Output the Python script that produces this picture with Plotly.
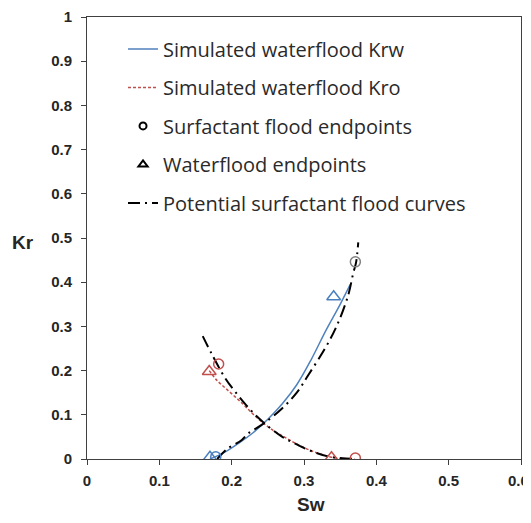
import plotly.graph_objects as go

# Simulated waterflood Krw
krw_sw = [0.170, 0.19, 0.21, 0.23, 0.25, 0.27, 0.29, 0.31, 0.33, 0.35, 0.364]
krw_kr = [0.0, 0.015, 0.036, 0.060, 0.090, 0.125, 0.168, 0.225, 0.29, 0.35, 0.395]

# Simulated waterflood Kro
kro_sw = [0.169, 0.179, 0.195, 0.212, 0.228, 0.244, 0.26, 0.276, 0.29, 0.308, 0.325, 0.338, 0.355, 0.37]
kro_kr = [0.2, 0.179, 0.155, 0.130, 0.104, 0.081, 0.062, 0.047, 0.034, 0.020, 0.010, 0.004, 0.001, 0.0]

# Potential surfactant flood curves (water and oil)
pw_sw = [0.18, 0.193, 0.214, 0.223, 0.244, 0.27, 0.29, 0.306, 0.329, 0.345, 0.361, 0.368, 0.372, 0.375]
pw_kr = [0.0, 0.022, 0.043, 0.058, 0.08, 0.115, 0.15, 0.19, 0.25, 0.30, 0.37, 0.42, 0.445, 0.49]
po_sw = [0.160, 0.172, 0.191, 0.205, 0.22, 0.235, 0.251, 0.27, 0.29, 0.31, 0.336, 0.37]
po_kr = [0.278, 0.239, 0.183, 0.152, 0.122, 0.096, 0.073, 0.050, 0.033, 0.018, 0.005, 0.0]

# Surfactant flood endpoints
sf_sw = [0.178, 0.182, 0.371, 0.371]
sf_kr = [0.005, 0.215, 0.002, 0.446]
sf_col = ["#4a7fc0", "#c0504d", "#c0504d", "#808080"]

# Waterflood endpoints
wf_sw = [0.170, 0.341, 0.169, 0.338]
wf_kr = [0.004, 0.367, 0.198, 0.003]
wf_col = ["#4a7fc0", "#4a7fc0", "#c0504d", "#c0504d"]

x_ticks = [0, 0.1, 0.2, 0.3, 0.4, 0.5, 0.6]
x_labels = ["0", "0.1", "0.2", "0.3", "0.4", "0.5", "0.6"]
y_ticks = [0, 0.1, 0.2, 0.3, 0.4, 0.5, 0.6, 0.7, 0.8, 0.9, 1]
y_labels = ["0", "0.1", "0.2", "0.3", "0.4", "0.5", "0.6", "0.7", "0.8", "0.9", "1"]

DASHDOT = "12px,5px,2px,5px"

fig = go.Figure()

fig.add_trace(go.Scatter(x=krw_sw, y=krw_kr, mode="lines", name="Simulated waterflood Krw",
                         line=dict(color="#4f81bd", width=1.5, shape="spline"), legendgroup="a"))
fig.add_trace(go.Scatter(x=kro_sw, y=kro_kr, mode="lines", name="Simulated waterflood Kro",
                         line=dict(color="#c0504d", width=1.5, dash="3px,2px", shape="spline"), legendgroup="b"))
fig.add_trace(go.Scatter(x=[None], y=[None], mode="markers", name="Surfactant flood endpoints",
                         marker=dict(symbol="circle-open", color="black", size=7, line=dict(width=2)),
                         legendgroup="c"))
fig.add_trace(go.Scatter(x=[None], y=[None], mode="markers", name="Waterflood endpoints",
                         marker=dict(symbol="triangle-up-open", color="black", size=8, line=dict(width=2)),
                         legendgroup="d"))
fig.add_trace(go.Scatter(x=pw_sw, y=pw_kr, mode="lines", name="Potential surfactant flood curves",
                         line=dict(color="black", width=2, dash=DASHDOT, shape="spline"),
                         legendgroup="e"))
fig.add_trace(go.Scatter(x=po_sw, y=po_kr, mode="lines", showlegend=False,
                         line=dict(color="black", width=2, dash=DASHDOT, shape="spline"),
                         legendgroup="e"))
fig.add_trace(go.Scatter(x=sf_sw, y=sf_kr, mode="markers", showlegend=False,
                         marker=dict(symbol="circle-open", color=sf_col, size=10, line=dict(width=1.5, color=sf_col))))
fig.add_trace(go.Scatter(x=wf_sw, y=wf_kr, mode="markers", showlegend=False,
                         marker=dict(symbol="triangle-up-open", color=wf_col, size=12, line=dict(width=1.5, color=wf_col))))

tick_font = dict(family="Liberation Sans", size=15, color="#262626")

# the last x label sits at the right edge; it is drawn as an annotation kept inside the figure
x_text = ["<b>%s</b>" % t for t in x_labels[:-1]] + [""]

# page body adds an 8px offset, so the figure is sized to compensate
fig.update_layout(
    width=523, height=515,
    margin=dict(l=79, r=10, t=9, b=64),
    plot_bgcolor="white", paper_bgcolor="white",
    showlegend=True,
    legend=dict(x=0.083, y=0.972, xanchor="left", yanchor="top", bgcolor="rgba(0,0,0,0)",
                font=dict(family="Open Sans", size=20, color="#2a2a2a"),
                tracegroupgap=9.5, traceorder="grouped", itemwidth=30),
    xaxis=dict(range=[0, 0.6], tickvals=x_ticks, ticktext=x_text,
               showgrid=False, zeroline=False, showline=True, linecolor="#404040", linewidth=1,
               mirror=True, ticks="outside", ticklen=5, tickcolor="#404040", automargin=False,
               ticklabelstandoff=3, tickfont=tick_font),
    yaxis=dict(range=[0, 1], tickvals=y_ticks, ticktext=["<b>%s</b>" % t for t in y_labels],
               showgrid=False, zeroline=False, showline=True, linecolor="#404040", linewidth=1,
               mirror=True, ticks="outside", ticklen=5, tickcolor="#404040", automargin=False,
               ticklabelstandoff=6, tickfont=tick_font),
    annotations=[
        dict(text="<b>Kr</b>", x=-0.148, y=0.49, xref="paper", yref="paper", showarrow=False,
             xanchor="center", yanchor="middle",
             font=dict(family="Liberation Sans", size=19, color="#262626")),
        dict(text="<b>Sw</b>", x=0.515, y=-0.103, xref="paper", yref="paper", showarrow=False,
             xanchor="center", yanchor="middle",
             font=dict(family="Liberation Sans", size=19, color="#262626")),
        dict(text="<b>%s</b>" % x_labels[-1], x=1.022, y=-0.049, xref="paper", yref="paper",
             showarrow=False, xanchor="right", yanchor="middle",
             font=tick_font),
    ],
)

fig.write_html("out.html")
